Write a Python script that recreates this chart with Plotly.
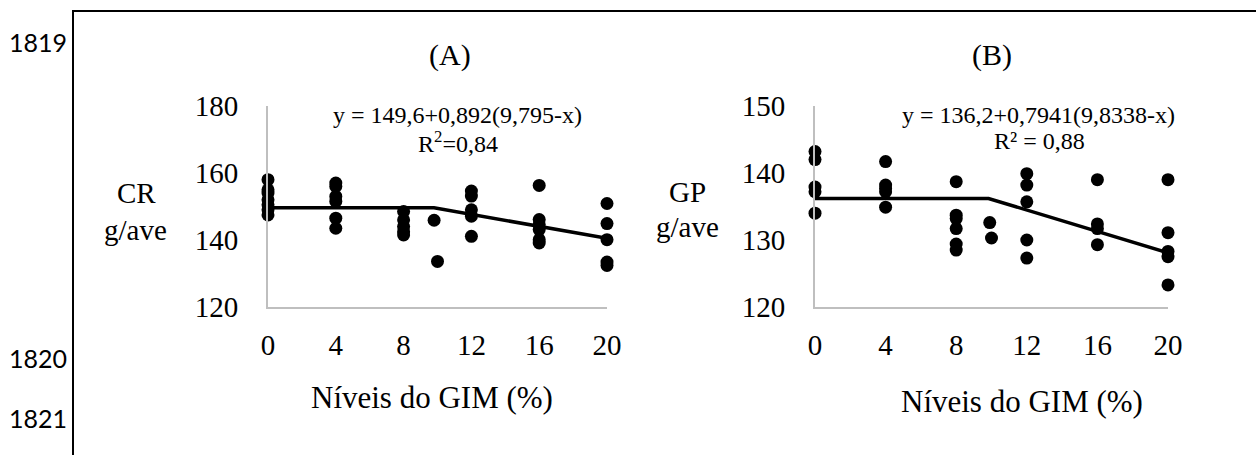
import plotly.graph_objects as go

W, H = 1256, 455

# ---------------- data ----------------
x_ticks = [0, 4, 8, 12, 16, 20]

# Panel A: CR g/ave
a_x = [0, 0, 0, 0, 0, 0, 0,
       4, 4, 4, 4, 4, 4,
       8, 8, 8, 8, 8,
       9.8, 10,
       12, 12, 12, 12, 12,
       16, 16, 16, 16, 16, 16,
       20, 20, 20, 20, 20]
a_y = [158, 155, 154, 152, 150.5, 149, 147.5,
       157, 156, 153, 151.5, 146.5, 143.5,
       148.5, 146, 144, 142.5, 141.5,
       145.9, 133.6,
       154.6, 153.1, 149, 147.1, 141.1,
       156.3, 146.1, 144.6, 143.1, 140.1, 139.1,
       150.9, 144.9, 140.1, 133.4, 132.4]
a_line_x = [0, 9.795, 20]
a_line_y = [149.6, 149.6, 140.5]

# Panel B: GP g/ave
b_x = [0, 0, 0, 0, 0,
       4, 4, 4, 4, 4,
       8, 8, 8, 8, 8, 8,
       9.9, 10,
       12, 12, 12, 12, 12,
       16, 16, 16, 16,
       20, 20, 20, 20, 20]
b_y = [143.2, 142.0, 137.9, 137.2, 134.0,
       141.7, 138.2, 137.7, 137.2, 134.9,
       138.7, 133.7, 133.2, 131.7, 129.4, 128.5,
       132.6, 130.3,
       139.9, 138.2, 135.7, 130.0, 127.3,
       139.0, 132.4, 131.7, 129.3,
       139.0, 131.1, 128.3, 127.5, 123.3]
b_line_x = [0, 9.8338, 20]
b_line_y = [136.2, 136.2, 128.1]

line_numbers = ["1819", "1820", "1821"]

# ---------------- helpers ----------------
def px(x):
    return x / W

def py(y):
    return 1 - y / H

SERIF = "Liberation Serif, Times New Roman, serif"
SANS = "Lato, Liberation Sans, sans-serif"

fig = go.Figure()

marker = dict(color="black", size=13)
fig.add_trace(go.Scatter(x=a_x, y=a_y, mode="markers", marker=marker,
                         cliponaxis=False, xaxis="x", yaxis="y", showlegend=False))
fig.add_trace(go.Scatter(x=a_line_x, y=a_line_y, mode="lines",
                         line=dict(color="black", width=3.5),
                         cliponaxis=False, xaxis="x", yaxis="y", showlegend=False))
fig.add_trace(go.Scatter(x=b_x, y=b_y, mode="markers", marker=marker,
                         cliponaxis=False, xaxis="x2", yaxis="y2", showlegend=False))
fig.add_trace(go.Scatter(x=b_line_x, y=b_line_y, mode="lines",
                         line=dict(color="black", width=3.5),
                         cliponaxis=False, xaxis="x2", yaxis="y2", showlegend=False))

ydom = [py(307), py(106)]
common_x = dict(range=[0, 20], tickvals=x_ticks, showgrid=False, zeroline=False,
                showline=True, linecolor="#BFBFBF", linewidth=2, ticks="",
                tickfont=dict(family=SERIF, size=29, color="black"),
                ticklabelstandoff=11, fixedrange=True, automargin=False)
common_y = dict(showgrid=False, zeroline=False, showline=True,
                linecolor="#BFBFBF", linewidth=2, ticks="",
                tickfont=dict(family=SERIF, size=29, color="black"),
                ticklabelstandoff=22, fixedrange=True, automargin=False)

fig.update_layout(
    width=W, height=H, autosize=False,
    margin=dict(l=0, r=0, t=0, b=0, pad=0),
    paper_bgcolor="white", plot_bgcolor="white",
    hovermode=False,
    xaxis=dict(domain=[px(268), px(607)], anchor="y", **common_x),
    yaxis=dict(domain=ydom, anchor="x", range=[120, 180], dtick=20, **common_y),
    xaxis2=dict(domain=[px(815), px(1168)], anchor="y2", **common_x),
    yaxis2=dict(domain=ydom, anchor="x2", range=[120, 150], dtick=10, **common_y),
)

def ann(text, x, y, size, family=SERIF, xanchor="center"):
    fig.add_annotation(text=text, x=px(x), y=py(y), xref="paper", yref="paper",
                       showarrow=False, xanchor=xanchor, yanchor="middle",
                       font=dict(family=family, size=size, color="black"))

# panel titles
ann("(A)", 450, 55, 30)
ann("(B)", 992, 55, 30)
# equations
ann("y = 149,6+0,892(9,795-x)", 458, 115, 24)
ann("R<sup>2</sup>=0,84", 458, 142, 24)
ann("y = 136,2+0,7941(9,8338-x)", 1038, 115, 24)
ann("R² = 0,88", 1039, 141, 24)
# y titles
ann("CR", 136, 193, 29)
ann("g/ave", 135, 230, 29)
ann("GP", 687, 192, 29)
ann("g/ave", 687, 227, 29)
# x titles
ann("Níveis do GIM (%)", 432, 397, 31)
ann("Níveis do GIM (%)", 1022, 401, 31)
# line numbers
ann(line_numbers[0], 38, 42, 25, family=SANS)
ann(line_numbers[1], 38, 358, 25, family=SANS)
ann(line_numbers[2], 38, 418, 25, family=SANS)

# border lines
fig.add_shape(type="line", xref="paper", yref="paper",
              x0=px(73), x1=px(73), y0=py(11), y1=0,
              line=dict(color="black", width=2))
fig.add_shape(type="line", xref="paper", yref="paper",
              x0=px(72), x1=1, y0=py(11), y1=py(11),
              line=dict(color="black", width=2))

fig.write_html("out.html", config={"displayModeBar": False, "staticPlot": True},
               post_script="document.body.style.margin='0';")

# make sure the page has no default body margin
with open("out.html", "r", encoding="utf-8") as f:
    html = f.read()
html = html.replace("<body>", '<body style="margin:0;padding:0;overflow:hidden">', 1)
with open("out.html", "w", encoding="utf-8") as f:
    f.write(html)
